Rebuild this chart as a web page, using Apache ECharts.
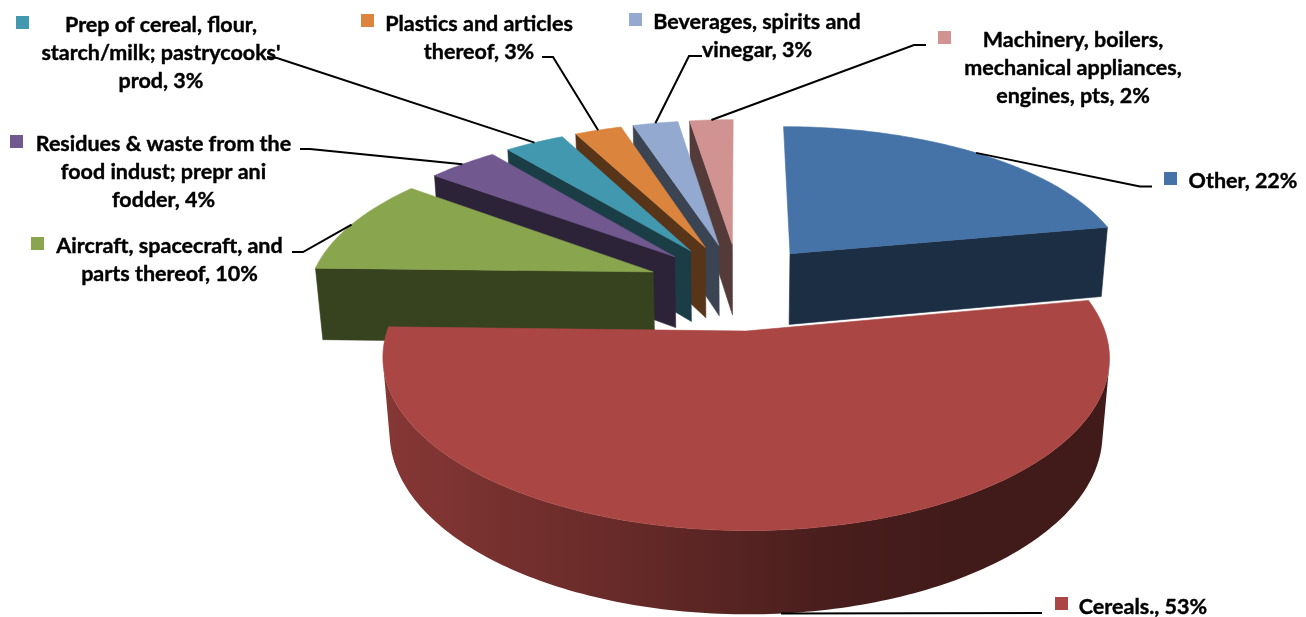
<!DOCTYPE html>
<html>
<head>
<meta charset="utf-8">
<style>html,body{margin:0;padding:0;background:#fff}#c{width:1306px;height:617px}</style>
<script src="https://cdn.jsdelivr.net/npm/echarts@6/dist/echarts.min.js"></script>
</head>
<body>
<div id="c"></div>
<script>
// ---- data, in the chart's clockwise order starting at 12 o'clock
const categories = ['Other', 'Cereals.', 'Aircraft, spacecraft, and parts thereof', 'Residues & waste from the food indust; prepr ani fodder', "Prep of cereal, flour, starch/milk; pastrycooks' prod", 'Plastics and articles thereof', 'Beverages, spirits and vinegar', 'Machinery, boilers, mechanical appliances, engines, pts'];
const values = [22, 53.4, 9.9, 3.9, 3.3, 2.6, 2.5, 2.4];
const colors = ['#4572A7', '#AA4643', '#89A54E', '#71588F', '#4198AF', '#DB843D', '#93A9CF', '#D19392'];
const labelLines = [
  ['Other, 22%'],
  ['Cereals., 53%'],
  ['Aircraft, spacecraft, and', 'parts thereof, 10%'],
  ['Residues & waste from the', 'food indust; prepr ani', 'fodder, 4%'],
  ['Prep of cereal, flour,', "starch/milk; pastrycooks'", 'prod, 3%'],
  ['Plastics and articles', 'thereof, 3%'],
  ['Beverages, spirits and', 'vinegar, 3%'],
  ['Machinery, boilers,', 'mechanical appliances,', 'engines, pts, 2%']
];
// ---- layout
const textCenter = [[1243, 181], [1143, 607], [169.5, 260.5], [163.5, 172], [161, 53], [479, 38], [757, 36], [1073, 68]];
const keyBox = [[1164, 172], [1055, 597], [31, 237], [10, 135], [16, 16], [361, 14], [629, 13], [938, 31]];
const leaderTail = [
  [[1140, 186.5], [1152, 186.5]], [[1042, 613]], [[303, 252], [292, 252]], [[310, 149], [300, 149]],
  [[277, 58], [267, 57]], [[553, 57], [542, 57]], [[689, 56], [702, 56]], [[914, 45], [926, 45]]
];
const drawOrder = [7, 6, 5, 4, 3, 0, 2, 1];
const cam = { S: 344, sinE: 0.45, cosE: 0.893, d: 6, cx: 739, cy: 286, explodeRight: 0.24, explodeLeft: 0.268, explodeY: 0.28, height: 0.24 };

function project(x, y, z) {
  const up = y * cam.sinE + z * cam.cosE;
  const depth = y * cam.cosE - z * cam.sinE;
  const w = cam.d / (cam.d + depth);
  return [cam.cx + cam.S * x * w, cam.cy - cam.S * up * w];
}
const total = values.reduce((a, b) => a + b, 0);
const slices = [];
values.reduce((acc, v, i) => {
  const a0 = acc / total * 360, a1 = (acc + v) / total * 360, mid = (a0 + a1) / 2 * Math.PI / 180;
  const ex = Math.sin(mid) < 0 ? cam.explodeLeft : cam.explodeRight;
  slices[i] = { a0, a1, ox: ex * Math.sin(mid), oy: cam.explodeY * Math.cos(mid), mid };
  return acc + v;
}, 0);
function rim(s, deg, z) {
  const t = deg * Math.PI / 180;
  return project(s.ox + Math.sin(t), s.oy + Math.cos(t), z);
}
function area(p) {
  let a = 0;
  for (let i = 0; i < p.length; i++) {
    const q = p[(i + 1) % p.length];
    a += p[i][0] * q[1] - q[0] * p[i][1];
  }
  return a;
}
function shade(hex, f) {
  const n = parseInt(hex.slice(1), 16);
  return 'rgb(' + [(n >> 16) & 255, (n >> 8) & 255, n & 255].map(c => Math.round(c * f)).join(',') + ')';
}
const wallStops = [[0, .38], [150, .38], [170, .43], [180, .5], [200, .62], [230, .75], [270, .82], [360, .82]];
function wallFactor(deg) {
  for (let i = 1; i < wallStops.length; i++) {
    if (deg <= wallStops[i][0]) {
      const a = wallStops[i - 1], b = wallStops[i];
      return a[1] + (b[1] - a[1]) * (deg - a[0]) / (b[0] - a[0]);
    }
  }
  return .82;
}
const poly = (points, fill) => ({ type: 'polygon', shape: { points }, style: { fill, stroke: fill, lineWidth: 0.6 } });
const minFaceArea = 3000;

function renderSlice(params, api) {
  const i = api.value(0), s = slices[i], col = colors[i], kids = [];
  const h = -cam.height;
  const apexT = project(s.ox, s.oy, 0), apexB = project(s.ox, s.oy, h);
  const dark = shade(col, 0.4);
  const start = [apexT, rim(s, s.a0, 0), rim(s, s.a0, h), apexB];
  const end = [rim(s, s.a1, 0), apexT, apexB, rim(s, s.a1, h)];
  if (area(start) < -minFaceArea) kids.push(poly(start, dark));
  if (area(end) < -minFaceArea) kids.push(poly(end, dark));
  const n = Math.ceil(s.a1 - s.a0), step = (s.a1 - s.a0) / n;
  const upper = [], lower = [], shades = [];
  for (let k = 0; k < n; k++) {
    const p = s.a0 + k * step, q = p + step;
    const quad = [rim(s, p, 0), rim(s, q, 0), rim(s, q, h), rim(s, p, h)];
    if (area(quad) < 0) {
      if (!upper.length) { upper.push(quad[0]); lower.push(quad[3]); }
      upper.push(quad[1]); lower.push(quad[2]);
      shades.push([(quad[0][0] + quad[1][0]) / 2, wallFactor((p + q) / 2)]);
    }
  }
  if (upper.length) {
    const pts = upper.concat(lower.slice().reverse());
    const xs = pts.map(p => p[0]), x0 = Math.min.apply(null, xs), x1 = Math.max.apply(null, xs);
    const stops = shades.map(v => ({ offset: Math.min(1, Math.max(0, (v[0] - x0) / (x1 - x0))), color: shade(col, v[1]) }))
      .sort((a, b) => a.offset - b.offset);
    kids.push({ type: 'polygon', shape: { points: pts }, style: { fill: new echarts.graphic.LinearGradient(x0, 0, x1, 0, stops, true) } });
  }
  const top = [apexT];
  for (let k = 0; k <= n; k++) top.push(rim(s, s.a0 + k * step, 0));
  kids.push(poly(top, col));
  return { type: 'group', children: kids };
}

const graphics = [];
categories.forEach((name, i) => {
  const s = slices[i];
  const tailZ = i === 1 ? -cam.height : 0;
  const startPt = rim(s, s.mid * 180 / Math.PI, tailZ);
  graphics.push({ type: 'polyline', z: 20, shape: { points: [startPt].concat(leaderTail[i]) }, style: { stroke: '#000', lineWidth: 2, fill: null } });
  graphics.push({ type: 'rect', z: 20, shape: { x: keyBox[i][0], y: keyBox[i][1], width: 13, height: 13 }, style: { fill: colors[i] } });
  const lines = labelLines[i], c = textCenter[i];
  lines.forEach((t, j) => {
    graphics.push({ type: 'text', z: 20, style: { text: t, x: c[0], y: c[1] + (j - (lines.length - 1) / 2) * 28, align: 'center', verticalAlign: 'middle', fill: '#000', stroke: '#000', lineWidth: 0.4, font: 'bold 21.5px Lato' } });
  });
});

const chart = echarts.init(document.getElementById('c'), null, { renderer: 'canvas', width: 1306, height: 617 });
chart.setOption({
  animation: false,
  backgroundColor: '#fff',
  graphic: { elements: graphics },
  series: [{
    type: 'custom',
    coordinateSystem: 'none',
    renderItem: renderSlice,
    data: drawOrder.map(i => ({ value: [i, values[i]], name: categories[i] })),
    silent: true
  }]
});
</script>
</body>
</html>
